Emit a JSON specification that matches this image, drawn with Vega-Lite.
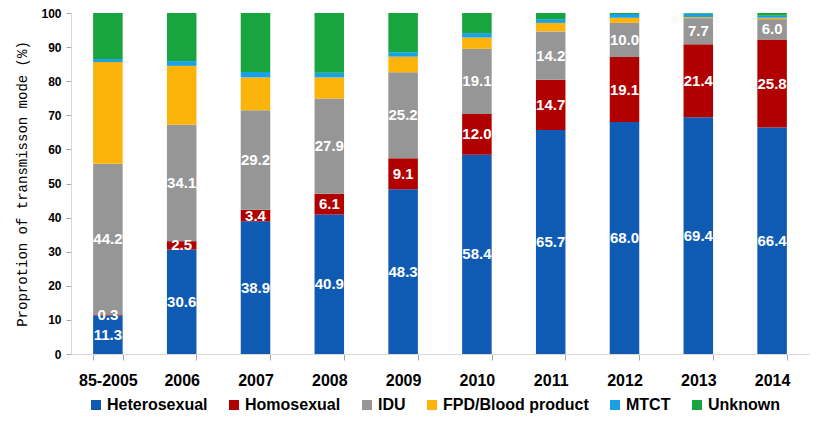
{
  "$schema": "https://vega.github.io/schema/vega-lite/v6.json",
  "width": 738,
  "height": 341,
  "autosize": {"type": "none"},
  "padding": {"left": 71, "top": 13, "right": 17, "bottom": 73},
  "background": "white",
  "config": {"view": {"stroke": null}, "font": "Liberation Sans"},
  "data": {
    "values": [
      {"year": "85-2005", "mode": "Heterosexual", "ord": 1, "value": 11.3},
      {"year": "85-2005", "mode": "Homosexual", "ord": 2, "value": 0.3},
      {"year": "85-2005", "mode": "IDU", "ord": 3, "value": 44.2},
      {"year": "85-2005", "mode": "FPD/Blood product", "ord": 4, "value": 29.8},
      {"year": "85-2005", "mode": "MTCT", "ord": 5, "value": 0.9},
      {"year": "85-2005", "mode": "Unknown", "ord": 6, "value": 13.5},
      {"year": "2006", "mode": "Heterosexual", "ord": 1, "value": 30.6},
      {"year": "2006", "mode": "Homosexual", "ord": 2, "value": 2.5},
      {"year": "2006", "mode": "IDU", "ord": 3, "value": 34.1},
      {"year": "2006", "mode": "FPD/Blood product", "ord": 4, "value": 17.3},
      {"year": "2006", "mode": "MTCT", "ord": 5, "value": 1.4},
      {"year": "2006", "mode": "Unknown", "ord": 6, "value": 14.1},
      {"year": "2007", "mode": "Heterosexual", "ord": 1, "value": 38.9},
      {"year": "2007", "mode": "Homosexual", "ord": 2, "value": 3.4},
      {"year": "2007", "mode": "IDU", "ord": 3, "value": 29.2},
      {"year": "2007", "mode": "FPD/Blood product", "ord": 4, "value": 9.6},
      {"year": "2007", "mode": "MTCT", "ord": 5, "value": 1.6},
      {"year": "2007", "mode": "Unknown", "ord": 6, "value": 17.3},
      {"year": "2008", "mode": "Heterosexual", "ord": 1, "value": 40.9},
      {"year": "2008", "mode": "Homosexual", "ord": 2, "value": 6.1},
      {"year": "2008", "mode": "IDU", "ord": 3, "value": 27.9},
      {"year": "2008", "mode": "FPD/Blood product", "ord": 4, "value": 6.2},
      {"year": "2008", "mode": "MTCT", "ord": 5, "value": 1.4},
      {"year": "2008", "mode": "Unknown", "ord": 6, "value": 17.5},
      {"year": "2009", "mode": "Heterosexual", "ord": 1, "value": 48.3},
      {"year": "2009", "mode": "Homosexual", "ord": 2, "value": 9.1},
      {"year": "2009", "mode": "IDU", "ord": 3, "value": 25.2},
      {"year": "2009", "mode": "FPD/Blood product", "ord": 4, "value": 4.6},
      {"year": "2009", "mode": "MTCT", "ord": 5, "value": 1.3},
      {"year": "2009", "mode": "Unknown", "ord": 6, "value": 11.5},
      {"year": "2010", "mode": "Heterosexual", "ord": 1, "value": 58.4},
      {"year": "2010", "mode": "Homosexual", "ord": 2, "value": 12.0},
      {"year": "2010", "mode": "IDU", "ord": 3, "value": 19.1},
      {"year": "2010", "mode": "FPD/Blood product", "ord": 4, "value": 3.3},
      {"year": "2010", "mode": "MTCT", "ord": 5, "value": 1.3},
      {"year": "2010", "mode": "Unknown", "ord": 6, "value": 5.9},
      {"year": "2011", "mode": "Heterosexual", "ord": 1, "value": 65.7},
      {"year": "2011", "mode": "Homosexual", "ord": 2, "value": 14.7},
      {"year": "2011", "mode": "IDU", "ord": 3, "value": 14.2},
      {"year": "2011", "mode": "FPD/Blood product", "ord": 4, "value": 2.5},
      {"year": "2011", "mode": "MTCT", "ord": 5, "value": 1.1},
      {"year": "2011", "mode": "Unknown", "ord": 6, "value": 1.8},
      {"year": "2012", "mode": "Heterosexual", "ord": 1, "value": 68.0},
      {"year": "2012", "mode": "Homosexual", "ord": 2, "value": 19.1},
      {"year": "2012", "mode": "IDU", "ord": 3, "value": 10.0},
      {"year": "2012", "mode": "FPD/Blood product", "ord": 4, "value": 1.5},
      {"year": "2012", "mode": "MTCT", "ord": 5, "value": 1.1},
      {"year": "2012", "mode": "Unknown", "ord": 6, "value": 0.3},
      {"year": "2013", "mode": "Heterosexual", "ord": 1, "value": 69.4},
      {"year": "2013", "mode": "Homosexual", "ord": 2, "value": 21.4},
      {"year": "2013", "mode": "IDU", "ord": 3, "value": 7.7},
      {"year": "2013", "mode": "FPD/Blood product", "ord": 4, "value": 0.3},
      {"year": "2013", "mode": "MTCT", "ord": 5, "value": 1.0},
      {"year": "2013", "mode": "Unknown", "ord": 6, "value": 0.2},
      {"year": "2014", "mode": "Heterosexual", "ord": 1, "value": 66.4},
      {"year": "2014", "mode": "Homosexual", "ord": 2, "value": 25.8},
      {"year": "2014", "mode": "IDU", "ord": 3, "value": 6.0},
      {"year": "2014", "mode": "FPD/Blood product", "ord": 4, "value": 0.4},
      {"year": "2014", "mode": "MTCT", "ord": 5, "value": 0.6},
      {"year": "2014", "mode": "Unknown", "ord": 6, "value": 0.8}
    ]
  },
  "encoding": {
    "x": {
      "field": "year",
      "type": "nominal",
      "sort": null,
      "scale": {"paddingInner": 0.6, "paddingOuter": 0.3},
      "axis": {
        "title": null,
        "labelAngle": 0,
        "labelFont": "Liberation Sans",
        "labelFontSize": 16,
        "labelFontWeight": "bold",
        "labelColor": "#000000",
        "labelPadding": 12,
        "domainColor": "#d9d9d9",
        "tickColor": "#a6a6a6",
        "tickSize": 6,
        "tickBand": "extent"
      }
    },
    "y": {
      "field": "value",
      "type": "quantitative",
      "stack": "zero",
      "scale": {"domain": [0, 100], "nice": false},
      "axis": {
        "title": "Proprotion of transmisson mode (%)",
        "titleFont": "Liberation Mono",
        "titleFontSize": 14,
        "titleFontWeight": "normal",
        "titleColor": "#000000",
        "titlePadding": 11,
        "values": [0, 10, 20, 30, 40, 50, 60, 70, 80, 90, 100],
        "grid": false,
        "labelFont": "Liberation Sans",
        "labelFontSize": 12,
        "labelFontWeight": "bold",
        "labelColor": "#000000",
        "labelPadding": 5,
        "domainColor": "#d9d9d9",
        "tickColor": "#a6a6a6",
        "tickSize": 5
      }
    },
    "order": {"field": "ord", "type": "quantitative", "sort": "ascending"}
  },
  "layer": [
    {
      "mark": {"type": "bar"},
      "encoding": {
        "color": {
          "field": "mode",
          "type": "nominal",
          "scale": {
            "domain": ["Heterosexual", "Homosexual", "IDU", "FPD/Blood product", "MTCT", "Unknown"],
            "range": ["#0F5BB3", "#B00000", "#969696", "#FDB40A", "#19A1E6", "#18A540"]
          },
          "legend": {
            "title": null,
            "orient": "none",
            "direction": "horizontal",
            "legendX": 17,
            "legendY": 384,
            "padding": 0,
            "symbolType": "square",
            "symbolSize": 100,
            "symbolStrokeWidth": 0,
            "symbolOpacity": 1,
            "labelFont": "Liberation Sans",
            "labelFontSize": 16,
            "labelFontWeight": "bold",
            "labelColor": "#000000",
            "labelOffset": 3,
            "columnPadding": 18
          }
        }
      }
    },
    {
      "transform": [{"filter": "datum.ord <= 3"}],
      "mark": {"type": "text", "color": "white", "font": "Liberation Sans", "fontSize": 15, "fontWeight": "bold", "baseline": "middle"},
      "encoding": {
        "y": {"field": "value", "type": "quantitative", "stack": "zero", "bandPosition": 0.5},
        "text": {"field": "value", "type": "quantitative", "format": ".1f"}
      }
    }
  ]
}
